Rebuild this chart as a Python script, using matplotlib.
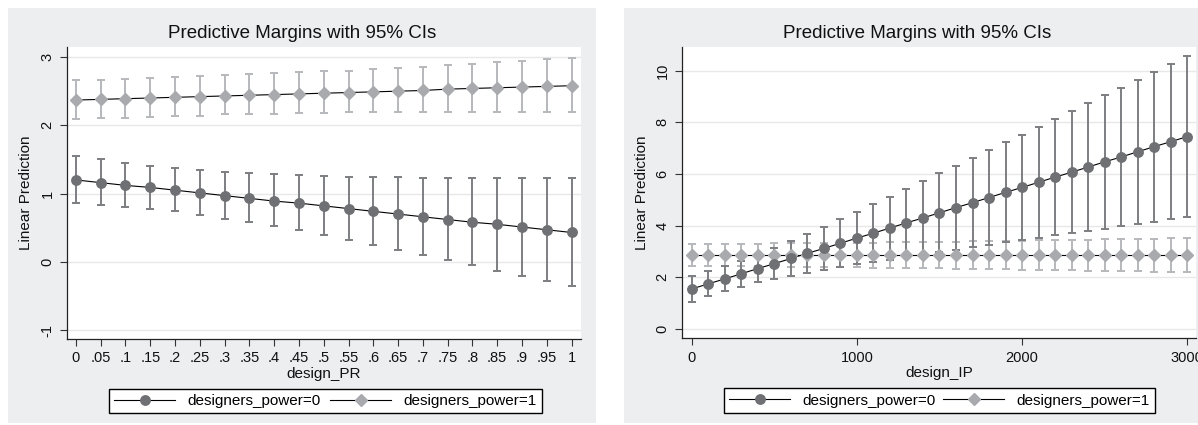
import matplotlib
matplotlib.use("Agg")
import matplotlib.pyplot as plt
from matplotlib.patches import Rectangle
from matplotlib.lines import Line2D

plt.rcParams['font.family'] = ['Liberation Sans', 'DejaVu Sans']

# ---------------- data: left panel (design_PR) ----------------
pr_x = [0, .05, .1, .15, .2, .25, .3, .35, .4, .45, .5, .55, .6, .65, .7, .75, .8, .85, .9, .95, 1]
pr_labels = ["0", ".05", ".1", ".15", ".2", ".25", ".3", ".35", ".4", ".45", ".5",
             ".55", ".6", ".65", ".7", ".75", ".8", ".85", ".9", ".95", "1"]
pr_m0 = [1.20, 1.16, 1.12, 1.09, 1.05, 1.01, 0.97, 0.93, 0.89, 0.86, 0.82,
         0.78, 0.74, 0.70, 0.66, 0.62, 0.58, 0.55, 0.51, 0.47, 0.43]
pr_lo0 = [0.86, 0.83, 0.80, 0.77, 0.74, 0.69, 0.63, 0.58, 0.52, 0.46, 0.39,
          0.32, 0.25, 0.18, 0.10, 0.02, -0.05, -0.13, -0.20, -0.28, -0.36]
pr_hi0 = [1.55, 1.50, 1.45, 1.41, 1.38, 1.34, 1.32, 1.30, 1.28, 1.27, 1.26,
          1.25, 1.24, 1.24, 1.23, 1.23, 1.23, 1.23, 1.23, 1.23, 1.23]
pr_m1 = [2.37, 2.38, 2.39, 2.40, 2.41, 2.42, 2.43, 2.44, 2.45, 2.46, 2.47,
         2.48, 2.49, 2.50, 2.51, 2.53, 2.54, 2.55, 2.56, 2.57, 2.58]
pr_lo1 = [2.09, 2.10, 2.11, 2.12, 2.13, 2.14, 2.16, 2.17, 2.17, 2.18, 2.18,
          2.19, 2.19, 2.20, 2.20, 2.20, 2.20, 2.20, 2.20, 2.20, 2.20]
pr_hi1 = [2.67, 2.67, 2.68, 2.70, 2.71, 2.72, 2.73, 2.75, 2.76, 2.78, 2.79,
          2.80, 2.82, 2.84, 2.86, 2.88, 2.90, 2.93, 2.94, 2.97, 2.99]
pr_yticks = [-1, 0, 1, 2, 3]

# ---------------- data: right panel (design_IP) ----------------
ip_x = [0, 100, 200, 300, 400, 500, 600, 700, 800, 900, 1000, 1100, 1200, 1300, 1400, 1500,
        1600, 1700, 1800, 1900, 2000, 2100, 2200, 2300, 2400, 2500, 2600, 2700, 2800, 2900, 3000]
ip_m0 = [1.55, 1.75, 1.94, 2.14, 2.34, 2.53, 2.73, 2.93, 3.12, 3.32, 3.52, 3.71, 3.91, 4.11, 4.30, 4.50,
         4.70, 4.89, 5.09, 5.29, 5.48, 5.68, 5.88, 6.07, 6.27, 6.47, 6.66, 6.86, 7.06, 7.25, 7.45]
ip_lo0 = [1.04, 1.26, 1.46, 1.64, 1.80, 1.93, 2.06, 2.18, 2.28, 2.39, 2.50, 2.59, 2.69, 2.79, 2.88, 2.97,
          3.07, 3.16, 3.25, 3.35, 3.43, 3.52, 3.62, 3.70, 3.79, 3.89, 3.97, 4.06, 4.16, 4.24, 4.33]
ip_hi0 = [2.06, 2.24, 2.42, 2.64, 2.88, 3.13, 3.40, 3.68, 3.96, 4.25, 4.54, 4.83, 5.13, 5.43, 5.72, 6.03,
          6.33, 6.62, 6.93, 7.23, 7.53, 7.84, 8.14, 8.44, 8.75, 9.05, 9.35, 9.66, 9.97, 10.26, 10.57]
ip_m1 = [2.86, 2.86, 2.86, 2.86, 2.86, 2.86, 2.86, 2.86, 2.86, 2.86, 2.86, 2.86, 2.86, 2.86, 2.86, 2.86,
         2.86, 2.86, 2.86, 2.86, 2.86, 2.86, 2.86, 2.86, 2.86, 2.86, 2.86, 2.86, 2.86, 2.86, 2.86]
ip_lo1 = [2.42, 2.42, 2.42, 2.42, 2.42, 2.41, 2.41, 2.40, 2.40, 2.39, 2.39, 2.38, 2.37, 2.37, 2.36, 2.35,
          2.34, 2.33, 2.32, 2.31, 2.30, 2.29, 2.28, 2.27, 2.26, 2.25, 2.24, 2.23, 2.22, 2.21, 2.20]
ip_hi1 = [3.30, 3.30, 3.30, 3.30, 3.30, 3.31, 3.31, 3.32, 3.32, 3.33, 3.33, 3.34, 3.35, 3.35, 3.36, 3.37,
          3.38, 3.39, 3.40, 3.41, 3.42, 3.43, 3.44, 3.45, 3.46, 3.47, 3.48, 3.49, 3.50, 3.51, 3.52]
ip_xticks = [0, 1000, 2000, 3000]
ip_yticks = [0, 2, 4, 6, 8, 10]

title = "Predictive Margins with 95% CIs"
ylabel = "Linear Prediction"
legend_labels = ["designers_power=0", "designers_power=1"]

# ---------------- styling ----------------
W, H = 1198, 425
BG = "#ECEEF0"
C0 = "#6F7074"
C0_CI = "#7D7E82"
C1 = "#A9AAAD"
C1_CI = "#B7B8BB"
GRID = "#E8E8E8"

fig = plt.figure(figsize=(W / 100, H / 100), dpi=100)
fig.patch.set_facecolor("white")


def fig_rect(x0, y0, x1, y1):
    return [x0 / W, 1 - y1 / H, (x1 - x0) / W, (y1 - y0) / H]


def panel(bg_box, ax_box, xs, m0, lo0, hi0, m1, lo1, hi1, xlim, ylim, xticks, xticklabels,
          yticks, xlabel, title_x, leg_box):
    bx0, by0, bx1, by1 = bg_box
    fig.patches.append(Rectangle((bx0 / W, 1 - by1 / H), (bx1 - bx0) / W, (by1 - by0) / H,
                                 transform=fig.transFigure, facecolor=BG, edgecolor="none", zorder=-5))
    ax = fig.add_axes(fig_rect(*ax_box))
    ax.set_zorder(1)
    ax.set_facecolor("white")
    ax.set_xlim(*xlim)
    ax.set_ylim(*ylim)
    for yv in yticks:
        ax.axhline(yv, color=GRID, lw=1.0, zorder=0.5)
    # CIs
    ax.errorbar(xs, m1, yerr=[[m - l for m, l in zip(m1, lo1)], [h - m for m, h in zip(m1, hi1)]],
                fmt="none", ecolor=C1_CI, elinewidth=1.4, capsize=3.0, capthick=1.4, zorder=2)
    ax.errorbar(xs, m0, yerr=[[m - l for m, l in zip(m0, lo0)], [h - m for m, h in zip(m0, hi0)]],
                fmt="none", ecolor=C0_CI, elinewidth=1.4, capsize=3.0, capthick=1.4, zorder=2)
    ax.plot(xs, m1, color="black", lw=0.8, zorder=3)
    ax.plot(xs, m0, color="black", lw=0.8, zorder=3)
    ax.plot(xs, m1, ls="none", marker="D", ms=6.2, mfc=C1, mec=C1, zorder=4)
    ax.plot(xs, m0, ls="none", marker="o", ms=6.8, mfc=C0, mec=C0, zorder=4)

    for s in ["top", "right"]:
        ax.spines[s].set_visible(False)
    for s in ["left", "bottom"]:
        ax.spines[s].set_color("#222222")
        ax.spines[s].set_linewidth(0.9)
    ax.set_xticks(xticks)
    ax.set_xticklabels(xticklabels)
    ax.set_yticks(yticks)
    ax.set_yticklabels([str(v) for v in yticks], rotation=90, va="center")
    ax.tick_params(axis="both", direction="out", length=5, width=0.8, color="#333333",
                   labelsize=10.5, labelcolor="#111111", pad=4)
    ax.set_xlabel(xlabel, fontsize=11, color="#111111", labelpad=1)
    ax.set_ylabel(ylabel, fontsize=11, color="#111111")
    ax.yaxis.set_label_coords((bg_box[0] + 25 - ax_box[0]) / (ax_box[2] - ax_box[0]), 0.5)
    fig.text(title_x / W, 1 - 33 / H, title, ha="center", va="center", fontsize=13.5, color="#111111")

    handles = [Line2D([], [], color="black", lw=0.8, marker="o", ms=6.8, mfc=C0, mec=C0),
               Line2D([], [], color="black", lw=0.8, marker="D", ms=6.2, mfc=C1, mec=C1)]
    lx0, ly0, lx1, ly1 = leg_box
    fig.legend(handles, legend_labels, loc="center", ncol=2, mode="expand",
               bbox_to_anchor=(lx0 / W, 1 - ly1 / H, (lx1 - lx0) / W, (ly1 - ly0) / H),
               bbox_transform=fig.transFigure, frameon=True, fancybox=False, framealpha=1,
               edgecolor="black", facecolor="white", fontsize=11, handlelength=4.0,
               borderpad=0.35, borderaxespad=0, columnspacing=1.5, handletextpad=0.8)
    return ax


panel((8, 8, 596, 423), (67, 47, 581, 339), pr_x, pr_m0, pr_lo0, pr_hi0, pr_m1, pr_lo1, pr_hi1,
      (-0.018, 1.019), (-1.13, 3.147), pr_x, pr_labels, pr_yticks, "design_PR", 302,
      (109, 388, 542, 414))
panel((624, 8, 1212, 423), (682, 47, 1196, 338), ip_x, ip_m0, ip_lo0, ip_hi0, ip_m1, ip_lo1, ip_hi1,
      (-60, 3054), (-0.35, 10.92), ip_xticks, [str(v) for v in ip_xticks], ip_yticks, "design_IP", 917,
      (724, 388, 1155, 413))

fig.savefig("out.png", dpi=100, facecolor="white")
